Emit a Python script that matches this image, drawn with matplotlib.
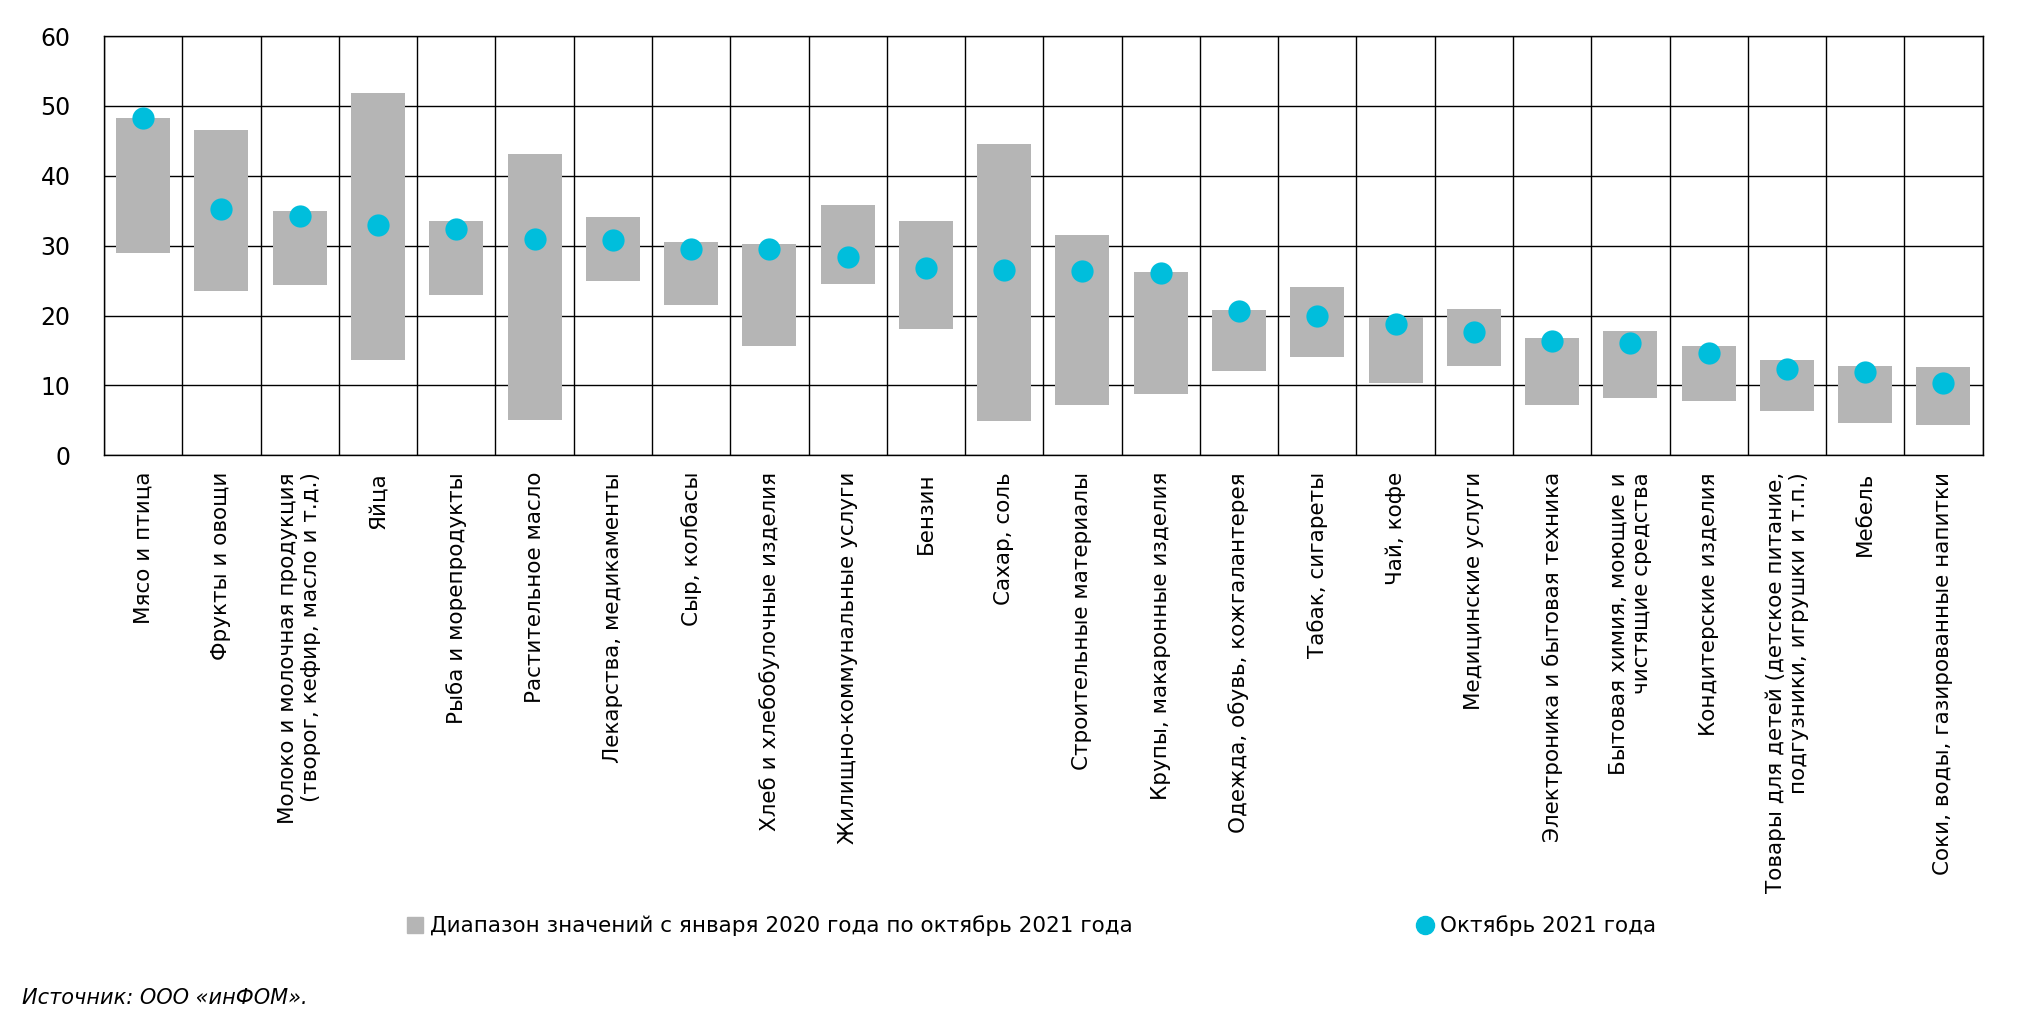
import numpy as np
import matplotlib.pyplot as plt
from matplotlib.lines import Line2D

# Categories and values
categories = [
    "Мясо и птица",
    "Фрукты и овощи",
    "Молоко и молочная продукция\n(творог, кефир, масло и т.д.)",
    "Яйца",
    "Рыба и морепродукты",
    "Растительное масло",
    "Лекарства, медикаменты",
    "Сыр, колбасы",
    "Хлеб и хлебобулочные изделия",
    "Жилищно-коммунальные услуги",
    "Бензин",
    "Сахар, соль",
    "Строительные материалы",
    "Крупы, макаронные изделия",
    "Одежда, обувь, кожгалантерея",
    "Табак, сигареты",
    "Чай, кофе",
    "Медицинские услуги",
    "Электроника и бытовая техника",
    "Бытовая химия, моющие и\nчистящие средства",
    "Кондитерские изделия",
    "Товары для детей (детское питание,\nподгузники, игрушки и т.п.)",
    "Мебель",
    "Соки, воды, газированные напитки",
]

range_low = [29.0, 23.5, 24.3, 13.7, 23.0, 5.0, 25.0, 21.5, 15.7, 24.5, 18.0, 4.9,
             7.2, 8.7, 12.0, 14.1, 10.4, 12.8, 7.2, 8.2, 7.7, 6.4, 4.6, 4.4]
range_high = [48.2, 46.5, 35.0, 51.9, 33.5, 43.1, 34.1, 30.5, 30.2, 35.8, 33.6, 44.5,
              31.5, 26.2, 20.8, 24.1, 19.8, 20.9, 16.8, 17.8, 15.6, 13.6, 12.8, 12.6]
oct_2021 = [48.2, 35.2, 34.2, 33.0, 32.4, 30.9, 30.8, 29.5, 29.5, 28.4, 26.8, 26.5,
            26.4, 26.1, 20.7, 19.9, 18.8, 17.6, 16.3, 16.1, 14.7, 12.3, 11.9, 10.3]

yticks = [0, 10, 20, 30, 40, 50, 60]

GREY = "#B5B5B5"
CYAN = "#00BEDC"

plt.rcParams["font.family"] = ["DejaVu Sans"]

fig = plt.figure(figsize=(20.2, 10.3), dpi=100)
ax = fig.add_axes([0.0515, 0.558, 0.93, 0.407])

x = np.arange(len(categories))
low = np.array(range_low)
high = np.array(range_high)

ax.bar(x, high - low, bottom=low, width=0.69, color=GREY, zorder=2)
ax.plot(x, oct_2021, "o", color=CYAN, markersize=16, markeredgewidth=0, zorder=3)

ax.set_xlim(-0.5, len(categories) - 0.5)
ax.set_ylim(0, 60)
ax.set_yticks(yticks)
ax.set_xticks(x)
ax.set_xticklabels(categories, rotation=90, ha="center", va="top",
                   multialignment="right", fontsize=15.5)
ax.set_xticks(np.arange(len(categories) + 1) - 0.5, minor=True)
ax.tick_params(axis="y", length=0, pad=24, labelsize=17)
ax.tick_params(axis="x", which="both", length=0, pad=12)

ax.grid(True, axis="y", which="major", color="black", linewidth=1.0, zorder=0)
ax.grid(True, axis="x", which="minor", color="black", linewidth=1.0, zorder=0)
ax.grid(False, axis="x", which="major")
ax.set_axisbelow(True)
for sp in ax.spines.values():
    sp.set_color("black")
    sp.set_linewidth(1.0)

handles = [
    Line2D([], [], marker="s", linestyle="none", color=GREY, markersize=12),
    Line2D([], [], marker="o", linestyle="none", color=CYAN, markersize=13),
]
labels = ["Диапазон значений с января 2020 года по октябрь 2021 года", "Октябрь 2021 года"]
fig.legend(handles, labels, loc="center left", bbox_to_anchor=(0.1915, 0.101), ncol=2,
           frameon=False, fontsize=15.5, handlelength=0.8, handletextpad=0.3,
           columnspacing=13.2)

fig.text(0.011, 0.031, "Источник: ООО «инФОМ».", fontsize=15, style="italic",
         ha="left", va="center")

fig.savefig("out.png", dpi=100)
